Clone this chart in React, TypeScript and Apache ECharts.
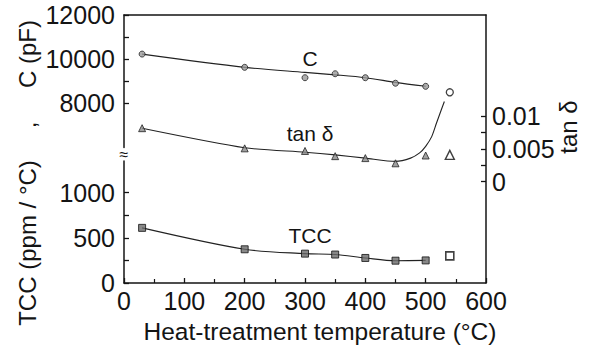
import React, { useEffect, useRef } from "react";
import * as echarts from "echarts";

// Heat-treatment temperatures (°C) of the measured samples
const temps = [30, 200, 300, 350, 400, 450, 500];
// Capacitance C (pF)
const cValues = [10230, 9630, 9160, 9340, 9160, 8910, 8770];
const cFit = [10230, 9630, 9400, 9290, 9160, 8950, 8770];
const cOpen = [[540, 8500]];
// tan delta
const tanValues = [0.0082, 0.0051, 0.0047, 0.0039, 0.0036, 0.0028, 0.004];
const tanFitTemps = [30, 200, 300, 350, 400, 450, 475, 490, 500, 510, 518, 527, 531];
const tanFit = [0.0082, 0.0052, 0.0045, 0.0041, 0.0036, 0.0031, 0.0036, 0.0044, 0.0054, 0.0069, 0.009, 0.0113, 0.0123];
const tanOpen = [[540, 0.0041]];
// TCC (ppm/°C)
const tccValues = [610, 373, 325, 315, 277, 247, 250];
const tccOpen = [[540, 300]];

// axis ticks / labels
const xMin = 0;
const xMax = 600;
const xInterval = 100;
const cTicks = [8000, 9000, 10000, 11000, 12000];
const cLabels = [8000, 10000, 12000];
const tccTicks = [0, 250, 500, 750, 1000];
const tccLabels = [0, 500, 1000];
const tanTicks = [0, 0.0025, 0.005, 0.0075, 0.01];
const tanLabels = [0, 0.005, 0.01];

const FONT = "'Liberation Sans', Arial, Helvetica, sans-serif";
const INK = "#141414";

function zip(xs: number[], ys: number[]) {
  return xs.map((x, i) => [x, ys[i]]);
}

export default function App() {
  const ref = useRef<HTMLDivElement>(null);
  useEffect(() => {
    if (!ref.current) return;
    const chart = echarts.init(ref.current, undefined, { renderer: "svg" });
    const axisLine = { show: true, onZero: false, lineStyle: { color: INK, width: 1.5 } };
    const labelStyle = { color: INK, fontSize: 25, fontFamily: FONT };
    const hiddenX = (gridIndex: number) => ({
      type: "value",
      gridIndex,
      min: xMin,
      max: xMax,
      show: false,
    });
    chart.setOption({
      animation: false,
      backgroundColor: "#fff",
      textStyle: { fontFamily: FONT },
      grid: [
        { left: 124, right: 111, top: 15, bottom: 64 },
        { left: 124, right: 111, top: 15, height: 132.5 },
        { left: 124, right: 111, top: 161, bottom: 64 },
      ],
      xAxis: [
        {
          type: "value",
          gridIndex: 0,
          position: "bottom",
          min: xMin,
          max: xMax,
          interval: xInterval,
          axisLine,
          axisTick: { show: true, inside: true, length: 5, lineStyle: { color: INK, width: 1.3 } },
          minorTick: { show: true, splitNumber: 2, length: 4, lineStyle: { color: INK, width: 1.2 } },
          axisLabel: { ...labelStyle, margin: 5 },
          splitLine: { show: false },
        },
        {
          type: "value",
          gridIndex: 0,
          position: "top",
          min: xMin,
          max: xMax,
          axisLine,
          axisTick: { show: false },
          axisLabel: { show: false },
          splitLine: { show: false },
        },
        hiddenX(1),
        hiddenX(2),
      ],
      yAxis: [
        {
          type: "value",
          gridIndex: 0,
          position: "right",
          min: -0.0156,
          max: 0.0256,
          axisLine,
          axisTick: { show: true, inside: true, length: 5, customValues: tanTicks, lineStyle: { color: INK, width: 1.3 } },
          axisLabel: { ...labelStyle, margin: 6, customValues: tanLabels, formatter: (v: number) => String(v) },
          splitLine: { show: false },
        },
        {
          type: "value",
          gridIndex: 1,
          position: "left",
          min: 6000,
          max: 12000,
          axisLine,
          axisTick: { show: true, inside: true, length: 5, customValues: cTicks, lineStyle: { color: INK, width: 1.3 } },
          axisLabel: { ...labelStyle, margin: 9, customValues: cLabels, formatter: (v: number) => String(v) },
          splitLine: { show: false },
        },
        {
          type: "value",
          gridIndex: 2,
          position: "left",
          min: 0,
          max: 1350,
          axisLine,
          axisTick: { show: true, inside: true, length: 5, customValues: tccTicks, lineStyle: { color: INK, width: 1.3 } },
          axisLabel: { ...labelStyle, margin: 9, customValues: tccLabels, formatter: (v: number) => String(v) },
          splitLine: { show: false },
        },
      ],
      series: [
        {
          type: "line",
          name: "C fit",
          xAxisIndex: 2,
          yAxisIndex: 1,
          data: zip(temps, cFit),
          showSymbol: false,
          smooth: 0.3,
          lineStyle: { color: "#222", width: 1.1 },
          z: 2,
        },
        {
          type: "scatter",
          name: "C",
          xAxisIndex: 2,
          yAxisIndex: 1,
          data: zip(temps, cValues),
          symbol: "circle",
          symbolSize: 6,
          itemStyle: { color: "#9a9a9a", borderColor: "#222", borderWidth: 1 },
          z: 3,
        },
        {
          type: "scatter",
          name: "C open",
          xAxisIndex: 2,
          yAxisIndex: 1,
          data: cOpen,
          symbol: "circle",
          symbolSize: 7,
          itemStyle: { color: "#fff", borderColor: "#111", borderWidth: 1.3 },
          z: 3,
        },
        {
          type: "line",
          name: "tan δ fit",
          xAxisIndex: 0,
          yAxisIndex: 0,
          data: zip(tanFitTemps, tanFit),
          showSymbol: false,
          smooth: 0.25,
          lineStyle: { color: "#222", width: 1.1 },
          z: 2,
        },
        {
          type: "scatter",
          name: "tan δ",
          xAxisIndex: 0,
          yAxisIndex: 0,
          data: zip(temps, tanValues),
          symbol: "triangle",
          symbolSize: 7,
          itemStyle: { color: "#8a8a8a", borderColor: "#222", borderWidth: 1 },
          z: 3,
        },
        {
          type: "scatter",
          name: "tan δ open",
          xAxisIndex: 0,
          yAxisIndex: 0,
          data: tanOpen,
          symbol: "triangle",
          symbolSize: 9,
          itemStyle: { color: "#fff", borderColor: "#111", borderWidth: 1.4 },
          z: 3,
        },
        {
          type: "line",
          name: "TCC fit",
          xAxisIndex: 3,
          yAxisIndex: 2,
          data: zip(temps, tccValues),
          showSymbol: false,
          smooth: 0.3,
          lineStyle: { color: "#222", width: 1.1 },
          z: 2,
        },
        {
          type: "scatter",
          name: "TCC",
          xAxisIndex: 3,
          yAxisIndex: 2,
          data: zip(temps, tccValues),
          symbol: "rect",
          symbolSize: 7,
          itemStyle: { color: "#6a6a6a", borderColor: "#111", borderWidth: 1 },
          z: 3,
        },
        {
          type: "scatter",
          name: "TCC open",
          xAxisIndex: 3,
          yAxisIndex: 2,
          data: tccOpen,
          symbol: "rect",
          symbolSize: 8,
          itemStyle: { color: "#fff", borderColor: "#111", borderWidth: 1.6 },
          z: 3,
        },
      ],
      graphic: [
        { type: "text", x: 310, y: 58, style: { text: "C", fill: INK, font: `21px ${FONT}`, textAlign: "center", textVerticalAlign: "middle" } },
        { type: "text", x: 310, y: 133, style: { text: "tan δ", fill: INK, font: `21px ${FONT}`, textAlign: "center", textVerticalAlign: "middle" } },
        { type: "text", x: 310, y: 235, style: { text: "TCC", fill: INK, font: `21px ${FONT}`, textAlign: "center", textVerticalAlign: "middle" } },
        { type: "text", x: 320, y: 331, style: { text: "Heat-treatment temperature (°C)", fill: INK, font: `24.5px ${FONT}`, textAlign: "center", textVerticalAlign: "middle" } },
        { type: "text", x: 27, y: 54, rotation: Math.PI / 2, style: { text: "C (pF)", fill: INK, font: `24px ${FONT}`, textAlign: "center", textVerticalAlign: "middle" } },
        { type: "text", x: 27, y: 125, rotation: Math.PI / 2, style: { text: ",", fill: INK, font: `24px ${FONT}`, textAlign: "center", textVerticalAlign: "middle" } },
        { type: "text", x: 27, y: 243, rotation: Math.PI / 2, style: { text: "TCC (ppm / °C)", fill: INK, font: `24px ${FONT}`, textAlign: "center", textVerticalAlign: "middle" } },
        { type: "text", x: 568, y: 127, rotation: Math.PI / 2, style: { text: "tan δ", fill: INK, font: `24px ${FONT}`, textAlign: "center", textVerticalAlign: "middle" } },
        { type: "text", x: 124, y: 154, style: { text: "≈", fill: INK, font: `16px ${FONT}`, textAlign: "center", textVerticalAlign: "middle" } },
      ],
    });
    return () => chart.dispose();
  }, []);
  return <div ref={ref} style={{ width: 597, height: 347, position: "absolute", left: 0, top: 0 }} />;
}
